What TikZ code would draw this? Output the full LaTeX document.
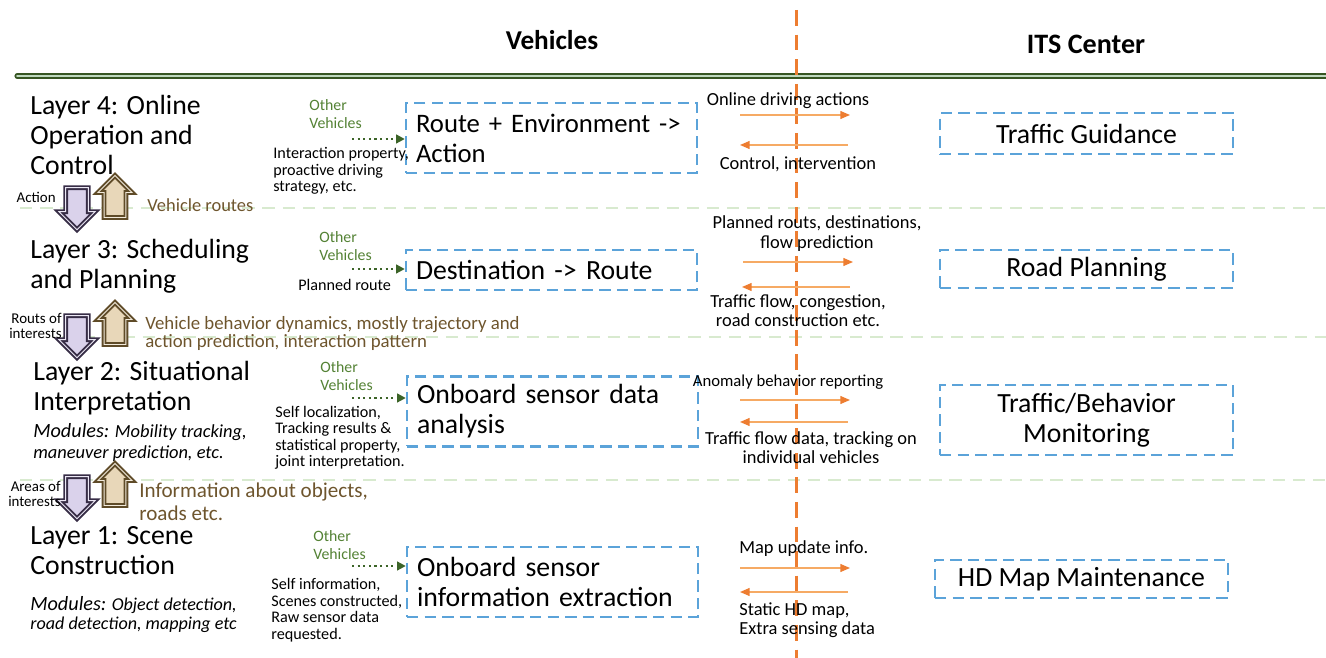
\documentclass[tikz,border=0pt]{standalone}
\usepackage{fontspec}
\setmainfont{Carlito}
\usetikzlibrary{shapes.arrows,arrows.meta}
\definecolor{boxblue}{RGB}{91,163,217}
\definecolor{divorange}{RGB}{237,125,49}
\definecolor{lineorange}{RGB}{246,170,100}
\definecolor{othgreen}{RGB}{84,130,53}
\definecolor{dotgreen}{RGB}{60,100,40}
\definecolor{rulegreen}{RGB}{55,86,35}
\definecolor{palegreen}{RGB}{216,234,207}
\definecolor{browntext}{RGB}{110,85,45}
\definecolor{downline}{RGB}{55,45,70}
\definecolor{downfill}{RGB}{218,210,235}
\definecolor{upline}{RGB}{95,75,40}
\definecolor{upfill}{RGB}{232,215,185}
\newcommand{\bigtxt}{\fontsize{15.8}{17}\selectfont}
\newcommand{\smalltxt}{\fontsize{9.2}{9.4}\selectfont}
\newcommand{\flowtxt}{\fontsize{10.5}{11}\selectfont}

\begin{document}
\begin{tikzpicture}[x=0.02cm,y=-0.02cm,
  vehbox/.style={draw=boxblue,line width=1.4pt,dash pattern=on 6.5pt off 3.5pt,
    text width=5.42cm,inner xsep=0.2cm,minimum height=1.4cm,align=left,font=\bigtxt},
  itsbox/.style={draw=boxblue,line width=1.4pt,dash pattern=on 6.5pt off 3.5pt,
    minimum width=5.86cm,align=center,font=\bigtxt},
  layertxt/.style={anchor=west,inner sep=0,align=left,font=\bigtxt},
  othtxt/.style={anchor=west,inner sep=0,align=left,text=othgreen,font=\fontsize{9}{10.2}\selectfont},
  infotxt/.style={anchor=west,inner sep=0,align=left,font=\smalltxt},
  flowlbl/.style={inner sep=0,align=center,font=\flowtxt},
  brownlbl/.style={anchor=west,inner sep=0,align=left,text=browntext},
  downarr/.style={single arrow,shape border rotate=270,draw=downline,fill=downfill,
    line width=1.1pt,double=white!50!downfill,double distance=0.5pt,
    minimum width=0.72cm,minimum height=0.84cm,inner sep=0.15cm,single arrow head extend=0.1cm},
  uparr/.style={single arrow,shape border rotate=90,draw=upline,fill=upfill,
    line width=1.1pt,double=white!50!upfill,double distance=0.5pt,
    minimum width=0.68cm,minimum height=0.84cm,inner sep=0.16cm,single arrow head extend=0.1cm},
  otherarrow/.style={dotgreen,line width=1.2pt,dotted,-{Triangle[length=5pt,width=5pt]}},
  floarrow/.style={lineorange,line width=0.8pt,-{Triangle[length=5.5pt,width=4.5pt,color=divorange]}}]
\useasboundingbox (0,0) rectangle (1326,658);

\draw[palegreen,line width=1.2pt,dash pattern=on 7pt off 4.5pt] (20,208) -- (1326,208);
\draw[palegreen,line width=1.2pt,dash pattern=on 7pt off 4.5pt] (62,337) -- (1326,337);
\draw[palegreen,line width=1.2pt,dash pattern=on 7pt off 4.5pt] (20,480) -- (1326,480);

\draw[rulegreen,line width=1pt,double=green!25!gray!40,double distance=0.9pt,line cap=round] (17,76) -- (1326,76);

\node[font=\fontsize{15.5}{17}\selectfont\bfseries] (hveh) at (552,40) {Vehicles};
\node[font=\fontsize{16}{17}\selectfont\bfseries] (hits) at (1086,44) {ITS Center};

\node[layertxt] (lay4) at (30,135) {Layer 4: Online\\Operation and\\Control};
\node[layertxt] (lay3) at (30,266) {Layer 3: Scheduling\\and Planning};
\node[layertxt] (lay2) at (33,388) {Layer 2: Situational\\Interpretation};
\node[layertxt] (lay1) at (30,551) {Layer 1: Scene\\Construction};
\node[anchor=west,inner sep=0,align=left,font=\fontsize{10.5}{11.9}\selectfont\itshape] (mod2) at (33,442.5)
  {{\fontsize{11.5}{11.9}\selectfont Modules:} Mobility tracking,\\maneuver prediction, etc.};
\node[anchor=west,inner sep=0,align=left,font=\fontsize{10.3}{11}\selectfont\itshape] (mod1) at (30,614.5)
  {{\fontsize{11.5}{11}\selectfont Modules:} Object detection,\\road detection, mapping etc};

\node[downarr] (dn4) at (77,203) {};
\node[uparr] (up4) at (115,202) {};
\node[downarr] (dn3) at (77,331) {};
\node[uparr] (up3) at (115,329) {};
\node[downarr] (dn2) at (77,492) {};
\node[uparr] (up2) at (115,490) {};
\node[anchor=east,inner sep=0,align=right,font=\fontsize{8.5}{8.6}\selectfont] (act) at (56,197) {Action};
\node[anchor=east,inner sep=0,align=right,font=\fontsize{8.5}{8.6}\selectfont] (rint) at (62,325.5) {Routs of\\interests};
\node[anchor=east,inner sep=0,align=right,font=\fontsize{8.5}{8.6}\selectfont] (aint) at (61,493.5) {Areas of\\interests};
\node[brownlbl,font=\fontsize{10.5}{12}\selectfont] (vroutes) at (147,205) {Vehicle routes};
\node[brownlbl,font=\fontsize{10.7}{10.8}\selectfont] (vdyn) at (145,333.5)
  {Vehicle behavior dynamics, mostly trajectory and\\action prediction, interaction pattern};
\node[brownlbl,font=\fontsize{12}{13}\selectfont] (objinfo) at (139,501.5) {Information about objects,\\roads etc.};

\node[vehbox,font=\fontsize{15.2}{17}\selectfont] (veh4) at (551.5,138) {Route + Environment ->\\Action};
\node[vehbox,minimum height=0.8cm] (veh3) at (551.5,270) {Destination -> Route};
\node[vehbox] (veh2) at (552.5,411.5) {Onboard sensor data\\analysis};
\node[vehbox] (veh1) at (552.5,582) {Onboard sensor\\information extraction};

\node[othtxt] (oth4) at (309,114) {Other\\Vehicles};
\node[othtxt] (oth3) at (319,246) {Other\\Vehicles};
\node[othtxt] (oth2) at (320,376) {Other\\Vehicles};
\node[othtxt] (oth1) at (313,545) {Other\\Vehicles};
\coordinate (dot4) at (352,139);
\coordinate (dot3) at (352,269);
\coordinate (dot2) at (352,398);
\coordinate (dot1) at (352,566);
\draw[otherarrow] (dot4) -- (dot4 -| veh4.west);
\draw[otherarrow] (dot3) -- (dot3 -| veh3.west);
\draw[otherarrow] (dot2) -- (dot2 -| veh2.west);
\draw[otherarrow] (dot1) -- (dot1 -| veh1.west);

\node[infotxt] (inf4) at (273,171) {Interaction property,\\proactive driving\\strategy, etc.};
\node[infotxt] (inf3) at (298,285) {Planned route};
\node[infotxt] (inf2) at (275,438) {Self localization,\\Tracking results \&\\statistical property,\\joint interpretation.};
\node[infotxt] (inf1) at (271,610) {Self information,\\Scenes constructed,\\Raw sensor data\\requested.};

\node[itsbox,minimum height=0.82cm] (its4) at (1086.5,133.5) {Traffic Guidance};
\node[itsbox,minimum height=0.76cm] (its3) at (1086.5,269) {Road Planning};
\node[itsbox,minimum height=1.4cm] (its2) at (1086.5,420) {Traffic/Behavior\\Monitoring};
\node[itsbox,minimum height=0.76cm] (its1) at (1081.5,579) {HD Map Maintenance};

\draw[divorange,line width=1.7pt,dash pattern=on 9pt off 5pt] (796,10) -- (796,658);

\coordinate (o4a) at (740,115); \coordinate (o4b) at (850,115);
\coordinate (o4c) at (848,145); \coordinate (o4d) at (740,145);
\coordinate (o3a) at (743,262); \coordinate (o3b) at (853,262);
\coordinate (o3c) at (850,287); \coordinate (o3d) at (742,287);
\coordinate (o2a) at (740,400); \coordinate (o2b) at (850,400);
\coordinate (o2c) at (848,422); \coordinate (o2d) at (740,422);
\coordinate (o1a) at (740,568); \coordinate (o1b) at (850,568);
\coordinate (o1c) at (848,592); \coordinate (o1d) at (740,592);
\draw[floarrow] (o4a) -- (o4b);
\draw[floarrow] (o4c) -- (o4d);
\draw[floarrow] (o3a) -- (o3b);
\draw[floarrow] (o3c) -- (o3d);
\draw[floarrow] (o2a) -- (o2b);
\draw[floarrow] (o2c) -- (o2d);
\draw[floarrow] (o1a) -- (o1b);
\draw[floarrow] (o1c) -- (o1d);

\node[flowlbl] (f4up) at (788,101) {Online driving actions};
\node[flowlbl] (f4dn) at (798,164) {Control, intervention};
\node[flowlbl] (f3up) at (817,233.5) {Planned routs, destinations,\\flow prediction};
\node[flowlbl] (f3dn) at (798,311) {Traffic flow, congestion,\\road construction etc.};
\node[flowlbl,font=\fontsize{9.5}{11}\selectfont] (f2up) at (788,382) {Anomaly behavior reporting};
\node[flowlbl] (f2dn) at (811,447.5) {Traffic flow data, tracking on\\individual vehicles};
\node[flowlbl,anchor=west,align=left] (f1up) at (739,549) {Map update info.};
\node[flowlbl,anchor=west,align=left] (f1dn) at (739,620.5) {Static HD map,\\Extra sensing data};
\end{tikzpicture}
\end{document}
